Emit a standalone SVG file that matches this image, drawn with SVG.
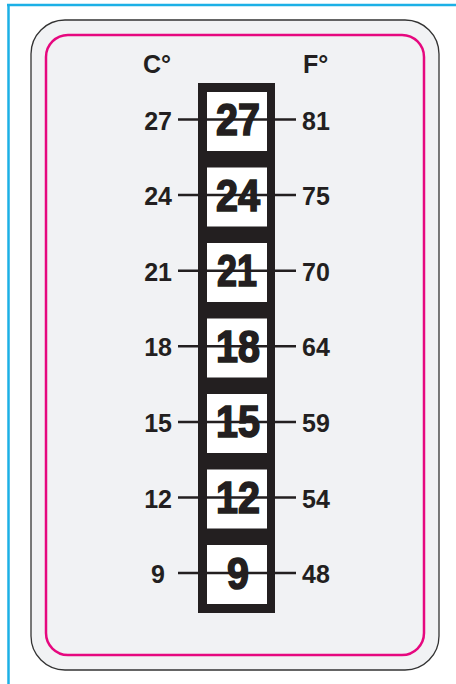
<svg xmlns="http://www.w3.org/2000/svg" width="456" height="684" viewBox="0 0 456 684">
<style>
.lbl{font-family:"Liberation Sans",Arial,sans-serif;font-weight:bold;font-size:25px;fill:#231f20}
.big{font-family:"Liberation Sans",Arial,sans-serif;font-weight:bold;font-size:44px;fill:#231f20;stroke:#231f20;stroke-width:1.6;text-anchor:middle}
.box{fill:#ffffff}
.tick{stroke:#231f20;stroke-width:2.5}
</style>
<rect x="0" y="0" width="456" height="684" fill="#ffffff"/>
<g id="frame">
<line x1="8.5" y1="5" x2="8.5" y2="684" stroke="#1cb0e6" stroke-width="2.5"/>
<line x1="7" y1="5" x2="456" y2="5" stroke="#1cb0e6" stroke-width="2.5"/>
</g>
<g id="card">
<rect x="31" y="20" width="408" height="650" rx="34" fill="#f1f2f4" stroke="#333333" stroke-width="1.3"/>
<rect x="46" y="35" width="378" height="620" rx="22" fill="none" stroke="#e6087f" stroke-width="2.5"/>
</g>
<g id="headers">
<text class="lbl" x="143" y="73">C°</text>
<text class="lbl" x="303" y="73">F°</text>
</g>
<g id="strip">
<rect x="198" y="83" width="77" height="530" fill="#231f20"/>
</g>
<g id="row27">
<rect class="box" x="207" y="92" width="60" height="59"/>
<text class="big" x="238" y="135" textLength="44" lengthAdjust="spacingAndGlyphs">27</text>
<text class="lbl" x="172" y="129.5" text-anchor="end">27</text>
<text class="lbl" x="302" y="129.5">81</text>
</g>
<g id="row24">
<rect class="box" x="207" y="167.5" width="60" height="59"/>
<text class="big" x="238" y="210.6" textLength="44" lengthAdjust="spacingAndGlyphs">24</text>
<text class="lbl" x="172" y="205.1" text-anchor="end">24</text>
<text class="lbl" x="302" y="205.1">75</text>
</g>
<g id="row21">
<rect class="box" x="207" y="243" width="60" height="59"/>
<text class="big" x="237" y="286.2" textLength="40" lengthAdjust="spacingAndGlyphs">21</text>
<text class="lbl" x="172" y="280.7" text-anchor="end">21</text>
<text class="lbl" x="302" y="280.7">70</text>
</g>
<g id="row18">
<rect class="box" x="207" y="318.5" width="60" height="59"/>
<text class="big" x="238" y="361.8" textLength="44" lengthAdjust="spacingAndGlyphs">18</text>
<text class="lbl" x="172" y="356.3" text-anchor="end">18</text>
<text class="lbl" x="302" y="356.3">64</text>
</g>
<g id="row15">
<rect class="box" x="207" y="394" width="60" height="59"/>
<text class="big" x="238" y="437.4" textLength="44" lengthAdjust="spacingAndGlyphs">15</text>
<text class="lbl" x="172" y="431.9" text-anchor="end">15</text>
<text class="lbl" x="302" y="431.9">59</text>
</g>
<g id="row12">
<rect class="box" x="207" y="469.5" width="60" height="59"/>
<text class="big" x="238" y="513" textLength="44" lengthAdjust="spacingAndGlyphs">12</text>
<text class="lbl" x="172" y="507.5" text-anchor="end">12</text>
<text class="lbl" x="302" y="507.5">54</text>
</g>
<g id="row9">
<rect class="box" x="207" y="545" width="60" height="59"/>
<text class="big" x="238" y="589" textLength="22" lengthAdjust="spacingAndGlyphs">9</text>
<text class="lbl" x="165" y="583" text-anchor="end">9</text>
<text class="lbl" x="302" y="583">48</text>
</g>
<g id="connectors">
<line class="tick" x1="178" y1="119.5" x2="296" y2="119.5"/>
<line class="tick" x1="178" y1="195.1" x2="296" y2="195.1"/>
<line class="tick" x1="178" y1="270.7" x2="296" y2="270.7"/>
<line class="tick" x1="178" y1="346.3" x2="296" y2="346.3"/>
<line class="tick" x1="178" y1="421.9" x2="296" y2="421.9"/>
<line class="tick" x1="178" y1="497.5" x2="296" y2="497.5"/>
<line class="tick" x1="178" y1="573" x2="296" y2="573"/>
</g>
</svg>
